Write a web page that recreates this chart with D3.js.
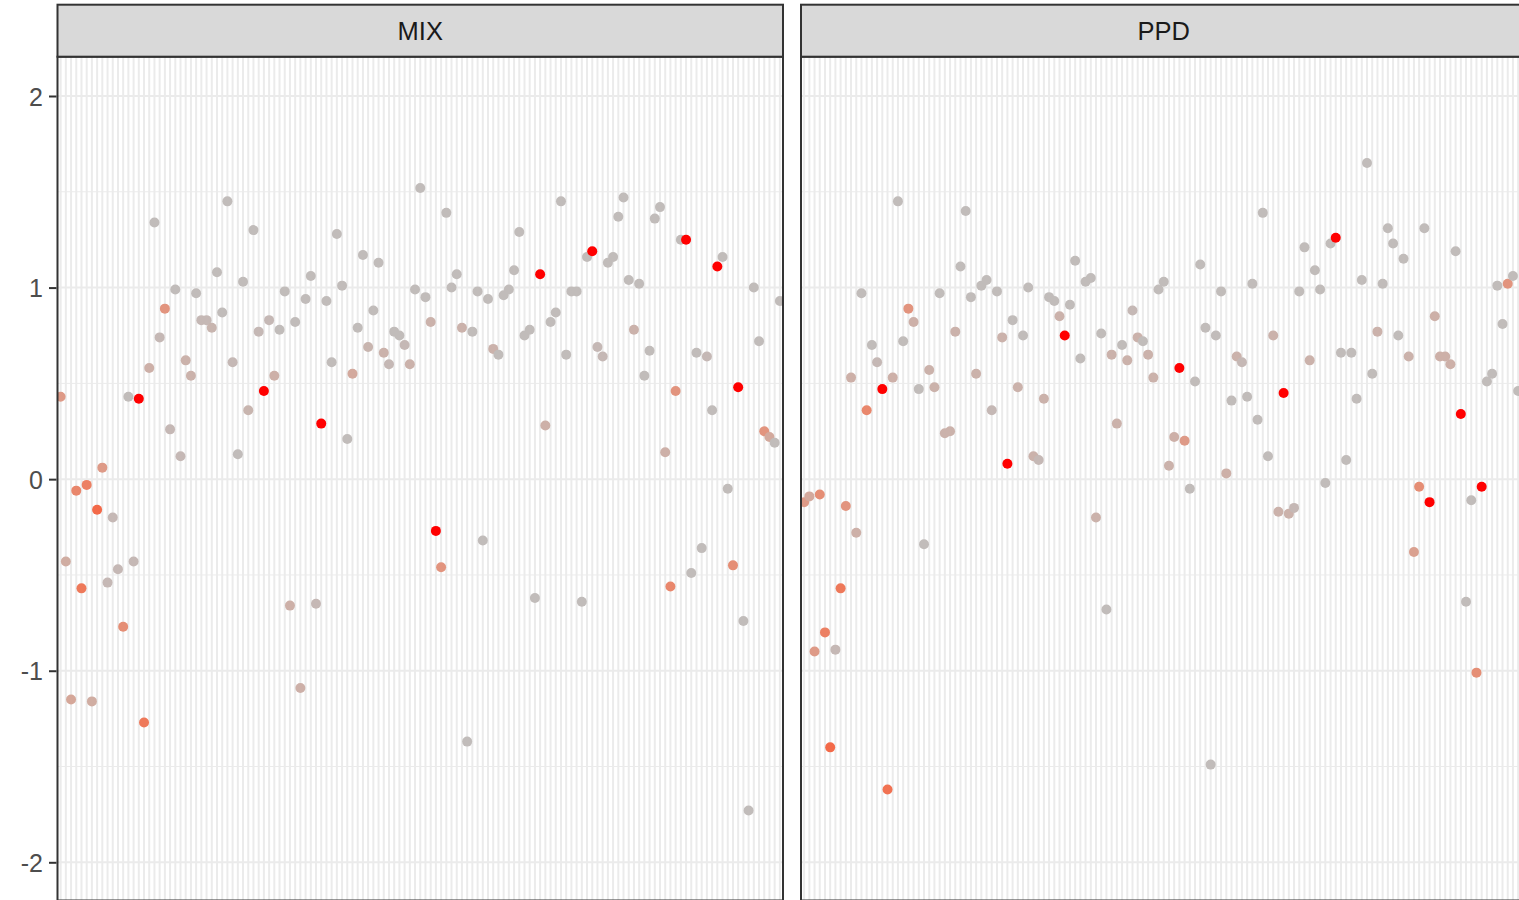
<!DOCTYPE html>
<html>
<head>
<meta charset="utf-8">
<script src="https://cdn.jsdelivr.net/npm/d3@7"></script>
<style>
  html, body { margin: 0; padding: 0; background: #ffffff; }
  svg { display: block; }
</style>
</head>
<body>
<svg id="chart" width="1519" height="900"></svg>
<script>
// ---------------- data ----------------
const panels = ["MIX", "PPD"];
const nCategories = 139;
const categories = Array.from({length: nCategories}, (_, i) => "S" + (i + 1));
const yTicks = [-2, -1, 0, 1, 2];
const yMinor = [-1.5, -0.5, 0.5, 1.5];

const mixValues = [
  0.43, -0.43, -1.15, -0.06, -0.57, -0.03, -1.16, -0.16, 0.06, -0.54,
  -0.20, -0.47, -0.77, 0.43, -0.43, 0.42, -1.27, 0.58, 1.34, 0.74,
  0.89, 0.26, 0.99, 0.12, 0.62, 0.54, 0.97, 0.83, 0.83, 0.79,
  1.08, 0.87, 1.45, 0.61, 0.13, 1.03, 0.36, 1.30, 0.77, 0.46,
  0.83, 0.54, 0.78, 0.98, -0.66, 0.82, -1.09, 0.94, 1.06, -0.65,
  0.29, 0.93, 0.61, 1.28, 1.01, 0.21, 0.55, 0.79, 1.17, 0.69,
  0.88, 1.13, 0.66, 0.60, 0.77, 0.75, 0.70, 0.60, 0.99, 1.52,
  0.95, 0.82, -0.27, -0.46, 1.39, 1.00, 1.07, 0.79, -1.37, 0.77,
  0.98, -0.32, 0.94, 0.68, 0.65, 0.96, 0.99, 1.09, 1.29, 0.75,
  0.78, -0.62, 1.07, 0.28, 0.82, 0.87, 1.45, 0.65, 0.98, 0.98,
  -0.64, 1.16, 1.19, 0.69, 0.64, 1.13, 1.16, 1.37, 1.47, 1.04,
  0.78, 1.02, 0.54, 0.67, 1.36, 1.42, 0.14, -0.56, 0.46, 1.25,
  1.25, -0.49, 0.66, -0.36, 0.64, 0.36, 1.11, 1.16, -0.05, -0.45,
  0.48, -0.74, -1.73, 1.00, 0.72, 0.25, 0.22, 0.19, 0.93
];
const mixColour = [
  0.30, 0.15, 0.20, 0.45, 0.55, 0.50, 0.15, 0.65, 0.30, 0.05,
  0.05, 0.05, 0.40, 0.02, 0.05, 1.00, 0.55, 0.12, 0.02, 0.05,
  0.35, 0.05, 0.02, 0.05, 0.10, 0.10, 0.02, 0.05, 0.05, 0.08,
  0.02, 0.02, 0.02, 0.05, 0.02, 0.02, 0.08, 0.02, 0.05, 1.00,
  0.05, 0.12, 0.02, 0.02, 0.12, 0.02, 0.12, 0.02, 0.02, 0.05,
  1.00, 0.02, 0.02, 0.02, 0.02, 0.02, 0.18, 0.02, 0.02, 0.08,
  0.02, 0.02, 0.10, 0.05, 0.02, 0.02, 0.05, 0.10, 0.02, 0.02,
  0.02, 0.10, 1.00, 0.35, 0.02, 0.02, 0.02, 0.10, 0.02, 0.02,
  0.02, 0.02, 0.02, 0.10, 0.02, 0.02, 0.02, 0.02, 0.02, 0.02,
  0.02, 0.02, 1.00, 0.12, 0.02, 0.02, 0.02, 0.02, 0.02, 0.02,
  0.02, 0.02, 1.00, 0.05, 0.05, 0.02, 0.02, 0.02, 0.02, 0.02,
  0.10, 0.02, 0.02, 0.02, 0.02, 0.02, 0.12, 0.45, 0.35, 0.02,
  1.00, 0.02, 0.02, 0.02, 0.05, 0.02, 1.00, 0.02, 0.02, 0.40,
  1.00, 0.02, 0.02, 0.02, 0.02, 0.35, 0.18, 0.02, 0.02
];

const ppdValues = [
  -0.12, -0.09, -0.90, -0.08, -0.80, -1.40, -0.89, -0.57, -0.14, 0.53,
  -0.28, 0.97, 0.36, 0.70, 0.61, 0.47, -1.62, 0.53, 1.45, 0.72,
  0.89, 0.82, 0.47, -0.34, 0.57, 0.48, 0.97, 0.24, 0.25, 0.77,
  1.11, 1.40, 0.95, 0.55, 1.01, 1.04, 0.36, 0.98, 0.74, 0.08,
  0.83, 0.48, 0.75, 1.00, 0.12, 0.10, 0.42, 0.95, 0.93, 0.85,
  0.75, 0.91, 1.14, 0.63, 1.03, 1.05, -0.20, 0.76, -0.68, 0.65,
  0.29, 0.70, 0.62, 0.88, 0.74, 0.72, 0.65, 0.53, 0.99, 1.03,
  0.07, 0.22, 0.58, 0.20, -0.05, 0.51, 1.12, 0.79, -1.49, 0.75,
  0.98, 0.03, 0.41, 0.64, 0.61, 0.43, 1.02, 0.31, 1.39, 0.12,
  0.75, -0.17, 0.45, -0.18, -0.15, 0.98, 1.21, 0.62, 1.09, 0.99,
  -0.02, 1.23, 1.26, 0.66, 0.10, 0.66, 0.42, 1.04, 1.65, 0.55,
  0.77, 1.02, 1.31, 1.23, 0.75, 1.15, 0.64, -0.38, -0.04, 1.31,
  -0.12, 0.85, 0.64, 0.64, 0.60, 1.19, 0.34, -0.64, -0.11, -1.01,
  -0.04, 0.51, 0.55, 1.01, 0.81, 1.02, 1.06, 0.46
];
const ppdColour = [
  0.30, 0.18, 0.30, 0.40, 0.50, 0.65, 0.05, 0.55, 0.35, 0.12,
  0.12, 0.02, 0.45, 0.02, 0.05, 1.00, 0.60, 0.12, 0.02, 0.02,
  0.35, 0.12, 0.02, 0.02, 0.10, 0.10, 0.02, 0.10, 0.10, 0.10,
  0.02, 0.02, 0.02, 0.10, 0.02, 0.02, 0.05, 0.02, 0.10, 1.00,
  0.02, 0.10, 0.02, 0.02, 0.10, 0.05, 0.10, 0.02, 0.02, 0.10,
  1.00, 0.02, 0.02, 0.02, 0.02, 0.02, 0.10, 0.02, 0.02, 0.10,
  0.10, 0.02, 0.10, 0.05, 0.10, 0.02, 0.10, 0.10, 0.02, 0.02,
  0.10, 0.12, 1.00, 0.30, 0.02, 0.02, 0.02, 0.02, 0.02, 0.02,
  0.02, 0.12, 0.02, 0.10, 0.05, 0.02, 0.02, 0.02, 0.02, 0.02,
  0.10, 0.10, 1.00, 0.10, 0.05, 0.02, 0.02, 0.10, 0.02, 0.02,
  0.02, 0.02, 1.00, 0.02, 0.02, 0.02, 0.02, 0.02, 0.02, 0.02,
  0.10, 0.02, 0.02, 0.02, 0.02, 0.02, 0.10, 0.25, 0.40, 0.02,
  1.00, 0.12, 0.12, 0.12, 0.12, 0.02, 1.00, 0.02, 0.02, 0.40,
  1.00, 0.02, 0.02, 0.02, 0.02, 0.35, 0.02, 0.02
];

// ---------------- layout ----------------
const svg = d3.select("#chart");
const panelTop = 56.7, panelBottom = 900.5;
const stripTop = 4.7;
const panelX = { MIX: [57.5, 783], PPD: [801, 1526.5] };
const seriesByPanel = {
  MIX: { values: mixValues, colour: mixColour },
  PPD: { values: ppdValues, colour: ppdColour }
};

const y = d3.scaleLinear().domain([-2, 2]).range([862.3, 96]);
const colour = d3.scaleLinear().domain([0, 1])
  .range(["#BEBEBE", "#FF0000"]).interpolate(d3.interpolateLab);

const fontFamily = "'Liberation Sans', Arial, 'DejaVu Sans', sans-serif";

panels.forEach(p => {
  const [x0, x1] = panelX[p];
  const x = d3.scalePoint().domain(categories).range([x0, x1]).padding(0.6);
  const g = svg.append("g");

  const clipId = "clip-" + p;
  svg.append("clipPath").attr("id", clipId)
    .append("rect").attr("x", x0).attr("y", panelTop)
    .attr("width", x1 - x0).attr("height", panelBottom - panelTop);

  const inner = g.append("g").attr("clip-path", `url(#${clipId})`);
  inner.append("rect").attr("x", x0).attr("y", panelTop)
    .attr("width", x1 - x0).attr("height", panelBottom - panelTop)
    .attr("fill", "#ffffff");

  // minor horizontal grid
  inner.selectAll(".ymin").data(yMinor).enter().append("line")
    .attr("x1", x0).attr("x2", x1)
    .attr("y1", d => y(d)).attr("y2", d => y(d))
    .attr("stroke", "#EBEBEB").attr("stroke-width", 1);
  // major horizontal grid
  inner.selectAll(".ymaj").data(yTicks).enter().append("line")
    .attr("x1", x0).attr("x2", x1)
    .attr("y1", d => y(d)).attr("y2", d => y(d))
    .attr("stroke", "#EBEBEB").attr("stroke-width", 2);
  // vertical grid (one per category)
  inner.selectAll(".xmaj").data(categories).enter().append("line")
    .attr("x1", d => x(d)).attr("x2", d => x(d))
    .attr("y1", panelTop).attr("y2", panelBottom)
    .attr("stroke", "#EBEBEB").attr("stroke-width", 2);

  // points
  const s = seriesByPanel[p];
  const pts = s.values.map((v, i) => ({ cat: categories[i], v, c: s.colour[i] }));
  inner.selectAll(".pt").data(pts).enter().append("circle")
    .attr("cx", d => x(d.cat)).attr("cy", d => y(d.v))
    .attr("r", 5)
    .attr("fill", d => colour(d.c));

  // panel border
  g.append("rect").attr("x", x0).attr("y", panelTop)
    .attr("width", x1 - x0).attr("height", panelBottom - panelTop)
    .attr("fill", "none").attr("stroke", "#333333").attr("stroke-width", 2);

  // strip
  g.append("rect").attr("x", x0).attr("y", stripTop)
    .attr("width", x1 - x0).attr("height", panelTop - stripTop)
    .attr("fill", "#D9D9D9").attr("stroke", "#333333").attr("stroke-width", 2);
  g.append("text").attr("x", (x0 + x1) / 2).attr("y", (stripTop + panelTop) / 2)
    .attr("text-anchor", "middle").attr("dy", "0.36em")
    .attr("font-family", fontFamily).attr("font-size", 25.5)
    .attr("fill", "#1A1A1A").text(p);

  if (p === "MIX") {
    const axis = d3.axisLeft(y).tickValues(yTicks).tickFormat(d => String(d))
      .tickSize(7.5).tickPadding(6);
    const ag = svg.append("g").attr("transform", `translate(${x0 - 1},0)`).call(axis);
    ag.select(".domain").remove();
    ag.selectAll(".tick line").attr("stroke", "#333333").attr("stroke-width", 2);
    ag.selectAll(".tick text").attr("font-family", fontFamily)
      .attr("font-size", 25).attr("fill", "#4D4D4D").attr("dy", "0.36em");
  }
});
</script>
</body>
</html>
